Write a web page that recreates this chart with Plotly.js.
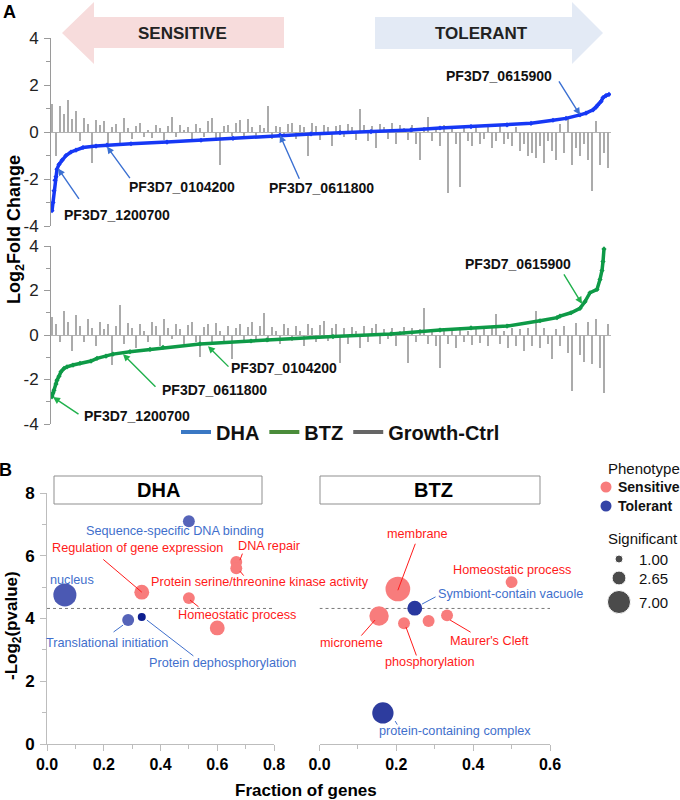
<!DOCTYPE html>
<html><head><meta charset="utf-8">
<script src="https://cdn.plot.ly/plotly-3.0.1.min.js"></script>
<style>html,body{margin:0;padding:0;background:#fff}#chart{width:680px;height:800px}</style>
</head><body><div id="chart"></div>
<script>
// ---------------- DATA ----------------
// Panel A: gene rank (sorted) vs log2 fold change
const dhaRank = [1,2,3,4,5,6,8,11,15,20,25,32,45,56,80,116,150,182,229,260,289,320,360,389,420,456,480,502,515,529,535,542,545,547,550,552,555,558];
const dhaLog2FC = [-3.35,-3.0,-2.5,-2.05,-1.9,-1.58,-1.38,-1.2,-1.0,-0.85,-0.77,-0.66,-0.6,-0.56,-0.5,-0.43,-0.35,-0.27,-0.13,-0.08,-0.03,0.02,0.09,0.17,0.23,0.3,0.37,0.5,0.58,0.73,0.8,0.94,1.05,1.16,1.3,1.46,1.55,1.6];
const btzRank = [1,2,3,5,6,8,10,13,16,22,29,40,46,55,62,79,99,112,149,200,216,282,340,389,420,456,489,506,509,520,529,534,539,546,549,551,552,553];
const btzLog2FC = [-2.78,-2.6,-2.48,-2.2,-2.03,-1.85,-1.65,-1.5,-1.43,-1.35,-1.27,-1.17,-1.05,-0.95,-0.86,-0.75,-0.65,-0.55,-0.4,-0.27,-0.22,-0.07,0.05,0.22,0.32,0.4,0.64,0.78,0.85,1.0,1.2,1.5,1.9,2.05,2.5,2.9,3.3,3.87];
const ctrlTopLog2FC = [1.2,-1.0,1.1,0.75,1.35,0.55,0.9,-0.4,0.6,0.35,-1.3,0.5,0.3,0.45,-0.6,0.2,0.35,-0.5,0.6,0.15,
-0.3,0.25,0.4,-0.2,0.1,-0.25,0.3,0.15,-0.35,0.25,0.65,-0.2,0.3,0.1,0.2,-0.4,0.35,0.15,-0.2,0.45,
0.6,-0.3,-1.4,0.25,0.3,-0.15,0.4,0.5,-0.3,0.55,0.2,-0.25,0.3,0.15,1.1,-0.3,0.25,0.2,-0.2,0.35,
0.4,-0.3,0.3,0.2,-1.0,0.4,0.25,-0.35,0.3,0.2,-0.6,0.25,0.3,-0.2,0.35,0.2,-0.35,1.0,0.3,-0.4,
0.25,-0.7,0.35,0.2,-0.3,0.4,-0.5,0.3,0.15,-0.35,0.3,-0.5,-1.2,0.2,0.65,-0.4,0.2,-0.6,0.3,-2.6,
0.2,-0.5,-2.35,0.25,-0.4,-0.6,0.3,-0.5,-0.3,0.2,-0.7,-0.4,0.3,-0.5,-0.3,-0.6,0.2,-0.8,-0.5,-1.0,
-0.9,-1.1,-0.6,-1.3,-0.4,-0.8,-1.2,0.35,-0.9,0.6,-1.4,-0.7,-1.0,-0.5,-1.2,-2.5,0.45,-1.4,-0.9,-1.55];
const ctrlBottomLog2FC = [0.8,0.5,-0.3,1.1,0.6,-0.7,0.9,0.4,-0.3,0.7,0.3,-0.5,0.6,0.25,0.5,-1.35,0.4,1.35,-0.4,0.55,
0.3,-0.6,0.5,0.2,-0.3,0.6,0.4,-0.5,0.7,0.3,-0.2,0.5,0.25,-0.4,0.45,0.6,-0.3,-1.0,0.35,0.5,
-0.3,0.55,0.2,-0.35,0.4,-1.1,0.3,0.5,-0.25,0.35,0.6,-0.3,0.4,1.0,-0.3,0.35,0.2,-0.4,0.5,0.3,
-0.25,0.4,0.2,-0.5,0.5,0.3,-0.3,0.45,0.65,-0.25,0.3,0.5,-1.25,0.3,-0.4,0.35,0.2,-0.6,0.4,-0.3,
0.3,0.5,-0.4,0.25,-0.2,0.3,-0.5,0.2,0.35,-1.25,0.3,-0.3,0.25,1.2,-0.4,0.2,-0.5,-1.5,0.3,-0.4,
0.2,-0.6,0.35,-0.3,0.2,-0.45,0.3,-0.35,0.25,-0.5,0.3,0.95,-0.4,0.2,-0.6,0.3,-0.5,0.25,-0.7,0.3,
-0.5,1.1,-0.6,0.3,-0.4,-1.1,0.25,-0.5,0.4,-0.8,-2.5,0.55,-0.9,-1.2,0.6,-1.3,0.7,-1.5,-2.6,0.5];
const ctrlRank = ctrlTopLog2FC.map((_, i) => 1 + 4 * i);
const log2TickVals = [-4,-2,0,2,4];
const log2TickText = ['-4','-2','0','2','4'];

// Panel B: GO enrichment
const dhaTerms = ['nucleus','Sequence-specific DNA binding','Regulation of gene expression','DNA repair','Protein serine/threonine kinase activity','Homeostatic process','','Translational initiation','Protein dephosphorylation'];
const dhaFraction = [0.063,0.50,0.334,0.667,0.667,0.50,0.60,0.286,0.334];
const dhaNegLog2P = [4.75,7.1,4.84,5.8,5.6,4.65,3.7,3.95,4.05];
const dhaSignificant = [7,2,3,2,2,2,3,2,1];
const dhaPhenotype = ['Tolerant','Tolerant','Sensitive','Sensitive','Sensitive','Sensitive','Sensitive','Tolerant','Tolerant'];

const btzTerms = ['membrane','Symbiont-contain vacuole','microneme','phosphorylation','',"Maurer's Cleft",'Homeostatic process','protein-containing complex'];
const btzFraction = [0.204,0.248,0.155,0.22,0.284,0.332,0.50,0.165];
const btzNegLog2P = [4.94,4.33,4.08,3.85,3.92,4.1,5.16,0.99];
const btzSignificant = [8,3,5,2,2,2,2,6];
const btzPhenotype = ['Sensitive','Tolerant','Sensitive','Sensitive','Sensitive','Sensitive','Sensitive','Tolerant'];

const sigThreshold = 4.32;           // -log2(0.05)
const sigLegendValues = [1.00, 2.65, 7.00];
const phenotypes = ['Sensitive', 'Tolerant'];

// ---------------- STYLE / LAYOUT ----------------
const W = 680, H = 800;
const px = x => x / W, py = y => 1 - y / H;
const FONT = 'Liberation Sans, Arial, Helvetica, sans-serif';
const sizeOf = s => Math.sqrt(78 * s - 14);
const phenoColor = {Sensitive: '#f87c7c', Tolerant: '#3444a6'};
const tolerantTone = {'nucleus':'#4b59b3','Sequence-specific DNA binding':'#5664b9','Translational initiation':'#5563b8',
  'Protein dephosphorylation':'#0d1e8e','Symbiont-contain vacuole':'#28389f','protein-containing complex':'#2d3c9e'};
const bubbleColors = (terms, pheno) => pheno.map((p, i) => p === 'Tolerant' ? (tolerantTone[terms[i]] || phenoColor.Tolerant) : phenoColor.Sensitive);
const RED = '#ff1a1a', BLUE = '#3f6fcc';

const traces = [
  {type:'bar', x: ctrlRank, y: ctrlTopLog2FC, width: 1.6, marker:{color:'#ababab', line:{width:0}}, xaxis:'x', yaxis:'y', showlegend:false, hoverinfo:'skip'},
  {type:'scatter', mode:'lines+markers', x: dhaRank, y: dhaLog2FC, line:{color:'#1638f5', width:3.5}, marker:{color:'#1638f5', size:4, symbol:'diamond'}, xaxis:'x', yaxis:'y', showlegend:false},
  {type:'bar', x: ctrlRank, y: ctrlBottomLog2FC, width: 1.6, marker:{color:'#ababab', line:{width:0}}, xaxis:'x2', yaxis:'y2', showlegend:false, hoverinfo:'skip'},
  {type:'scatter', mode:'lines+markers', x: btzRank, y: btzLog2FC, line:{color:'#0e9a47', width:3.5}, marker:{color:'#0e9a47', size:4, symbol:'diamond'}, xaxis:'x2', yaxis:'y2', showlegend:false},
  // legend entries
  {type:'scatter', mode:'lines', x:[null], y:[null], name:'DHA', line:{color:'#3a78c4', width:4}, xaxis:'x', yaxis:'y'},
  {type:'scatter', mode:'lines', x:[null], y:[null], name:'BTZ', line:{color:'#4a8c3a', width:4}, xaxis:'x', yaxis:'y'},
  {type:'scatter', mode:'lines', x:[null], y:[null], name:'Growth-Ctrl', line:{color:'#666666', width:4}, xaxis:'x', yaxis:'y'},
  // Panel B bubbles
  {type:'scatter', mode:'markers', x: dhaFraction, y: dhaNegLog2P, text: dhaTerms, xaxis:'x3', yaxis:'y3', showlegend:false,
   marker:{size: dhaSignificant.map(sizeOf), color: bubbleColors(dhaTerms, dhaPhenotype), opacity:1, line:{width:0}}},
  {type:'scatter', mode:'markers', x: btzFraction, y: btzNegLog2P, text: btzTerms, xaxis:'x4', yaxis:'y4', showlegend:false,
   marker:{size: btzSignificant.map(sizeOf), color: bubbleColors(btzTerms, btzPhenotype), opacity:1, line:{width:0}}},
  // Phenotype legend keys and Significant legend keys (overlay pixel axis)
  {type:'scatter', mode:'markers', x:[606,606], y:[487,506], xaxis:'x5', yaxis:'y5', showlegend:false, hoverinfo:'skip',
   marker:{size:11, color: phenotypes.map(p => phenoColor[p])}},
  {type:'scatter', mode:'markers', x:[619,619,619], y:[559,578,602], xaxis:'x5', yaxis:'y5', showlegend:false, hoverinfo:'skip',
   marker:{size: sigLegendValues.map(sizeOf), color:'#000'}}
];

const axA = (dom) => ({domain: dom, range:[-4,4], tickmode:'array', tickvals: log2TickVals, ticktext: log2TickText,
  showline:true, linecolor:'#9a9a9a', linewidth:1,
  ticks:'outside', ticklen:6, tickcolor:'#9a9a9a', showgrid:false, zeroline:true, zerolinecolor:'#b3b3b3', zerolinewidth:1,
  tickfont:{family:FONT, size:17, color:'#222'}, ticklabelstandoff:2,
  minor:{tickvals:[-3,-1,1,3], ticks:'outside', ticklen:4, tickcolor:'#9a9a9a', showgrid:false}, fixedrange:true});
const axBx = (dom, maxv, anchor) => ({domain: dom, range:[0, maxv], anchor, tick0:0, dtick:0.2, tickformat:'.1f',
  showline:true, linecolor:'#bdbdbd', ticks:'outside', ticklen:6, tickcolor:'#bdbdbd', showgrid:false, zeroline:false,
  tickfont:{family:FONT, size:16, color:'#000', weight:'bold'},
  minor:{dtick:0.1, ticks:'outside', ticklen:4, tickcolor:'#bdbdbd', showgrid:false}, fixedrange:true});

const ann = [];
const txt = (t, x, y, size, color, extra) => ann.push(Object.assign({text:t, x:px(x), y:py(y), xref:'paper', yref:'paper',
  showarrow:false, xanchor:'center', yanchor:'middle', font:{family:FONT, size, color}}, extra || {}));
const arrow = (xr, yr, x, y, ax, ay, color, head) => ann.push({text:'', xref:xr, yref:yr, x, y, ax, ay, showarrow:true,
  arrowhead: head ? 2 : 0, arrowsize: 1, arrowwidth: head ? 1.4 : 1, arrowcolor: color, standoff:0, startstandoff:0});

// panel letters & big arrows text
txt('A', 9, 12, 18, '#000', {font:{family:FONT, size:18, color:'#000', weight:'bold'}});
txt('B', 5, 470, 18, '#000', {font:{family:FONT, size:18, color:'#000', weight:'bold'}});
txt('SENSITIVE', 182, 33, 17, '#222', {font:{family:FONT, size:17, color:'#222', weight:'bold'}});
txt('TOLERANT', 481, 33, 17, '#222', {font:{family:FONT, size:17, color:'#222', weight:'bold'}});
txt('Log<sub>2</sub>Fold Change', 16, 230, 18, '#000', {textangle:-90, font:{family:FONT, size:18, color:'#000', weight:'bold'}});

// Panel A gene labels
const bold14 = {family:FONT, size:14, color:'#111', weight:'bold'};
[['PF3D7_0615900',499,76],['PF3D7_0104200',182,187],['PF3D7_0611800',321,188],['PF3D7_1200700',117,215],
 ['PF3D7_0615900',518,264],['PF3D7_0104200',284,368],['PF3D7_0611800',214,390],['PF3D7_1200700',137,416]]
 .forEach(([t,x,y]) => txt(t, x, y, 14, '#111', {font:bold14}));
const BLUEA = '#3b70d2', GREENA = '#20b04c';
arrow('x','y', 529, 0.73, -22, -35, BLUEA, true);
arrow('x','y', 56, -0.62, 24, 33, BLUEA, true);
arrow('x','y', 229, -0.14, 20, 45, BLUEA, true);
arrow('x','y', 7, -1.55, 22, 32, BLUEA, true);
arrow('x2','y2', 531, 1.4, -19, -31, GREENA, true);
arrow('x2','y2', 157, -0.5, 22, 22, GREENA, true);
arrow('x2','y2', 72, -0.86, 34, 34, GREENA, true);
arrow('x2','y2', 2, -2.79, 27, 18, GREENA, true);

// Panel B headers and axis titles
txt('DHA', 158, 490, 20, '#000', {font:{family:FONT, size:20, color:'#000', weight:'bold'}});
txt('BTZ', 433, 490, 20, '#000', {font:{family:FONT, size:20, color:'#000', weight:'bold'}});
txt('-Log<sub>2</sub>(pvalue)', 13, 626, 17, '#000', {textangle:-90, font:{family:FONT, size:17, color:'#000', weight:'bold'}});
txt('Fraction of genes', 306, 790, 17, '#000', {font:{family:FONT, size:17, color:'#000', weight:'bold'}});

// Panel B term labels
const lab = (t, x, y, c) => txt(t, x, y, 12.7, c);
lab('Sequence-specific DNA binding', 175, 531, BLUE);
lab('Regulation of gene expression', 137, 548, RED);
lab('DNA repair', 269, 546, RED);
lab('Protein serine/threonine kinase activity', 260, 582, RED);
lab('nucleus', 72, 580, BLUE);
lab('Homeostatic process', 237, 615, RED);
lab('Translational initiation', 107, 643, BLUE);
lab('Protein dephosphorylation', 222, 663, BLUE);
lab('membrane', 417, 534, RED);
lab('Homeostatic process', 512, 570, RED);
lab('Symbiont-contain vacuole', 510, 594, BLUE);
lab('microneme', 351, 643, RED);
lab('phosphorylation', 430, 662, RED);
lab("Maurer's Cleft", 489, 641, RED);
lab('protein-containing complex', 455, 731, BLUE);
arrow('x3','y3', 0.334, 4.84, -40, -34, RED, false);
arrow('x3','y3', 0.68, 5.86, 3, -8, RED, false);
arrow('x3','y3', 0.68, 5.51, 5, 6, RED, false);
arrow('x3','y3', 0.504, 4.59, 10, 8, RED, false);
arrow('x3','y3', 0.268, 3.79, -11, 8, BLUE, false);
arrow('x3','y3', 0.352, 3.95, 48, 37, BLUE, false);
arrow('x4','y4', 0.204, 4.9, 18, -48, RED, false);
arrow('x4','y4', 0.267, 4.46, 15, -8, BLUE, false);
arrow('x4','y4', 0.1445, 3.95, -15, 17, RED, false);
arrow('x4','y4', 0.225, 3.73, 11, 30, RED, false);
arrow('x4','y4', 0.34, 3.95, 22, 13, RED, false);
arrow('x4','y4', 0.197, 0.73, 3, 5, BLUE, false);

// Phenotype / Significant legends
txt('Phenotype', 606, 468, 15, '#111', {xanchor:'left'});
txt('Sensitive', 616, 487, 14, '#111', {xanchor:'left', font:{family:FONT, size:14, color:'#111', weight:'bold'}});
txt('Tolerant', 616, 506, 14, '#111', {xanchor:'left', font:{family:FONT, size:14, color:'#111', weight:'bold'}});
txt('Significant', 606, 538, 15, '#111', {xanchor:'left'});
sigLegendValues.forEach((v, i) => txt(v.toFixed(2), 637, [559,578,602][i], 15, '#111', {xanchor:'left'}));

const shapes = [
  {type:'path', xref:'paper', yref:'paper', layer:'below', fillcolor:'#f7dcdc', line:{width:0},
   path:`M ${px(62)},${py(33)} L ${px(94)},${py(2)} L ${px(94)},${py(17)} L ${px(284)},${py(17)} L ${px(284)},${py(48)} L ${px(94)},${py(48)} L ${px(94)},${py(64)} Z`},
  {type:'path', xref:'paper', yref:'paper', layer:'below', fillcolor:'#e3eaf5', line:{width:0},
   path:`M ${px(375)},${py(17)} L ${px(572)},${py(17)} L ${px(572)},${py(2)} L ${px(603)},${py(33)} L ${px(572)},${py(64)} L ${px(572)},${py(49)} L ${px(375)},${py(49)} Z`},
  {type:'rect', xref:'paper', yref:'paper', x0:px(54), x1:px(262), y0:py(476), y1:py(504), line:{color:'#8f8f8f', width:1}, fillcolor:'#fff'},
  {type:'rect', xref:'paper', yref:'paper', x0:px(320), x1:px(540), y0:py(476), y1:py(504), line:{color:'#8f8f8f', width:1}, fillcolor:'#fff'},
  {type:'line', xref:'x3', yref:'y3', x0:0, x1:0.8, y0:sigThreshold, y1:sigThreshold, line:{color:'#7a7a7a', width:1, dash:'dot'}, layer:'below'},
  {type:'line', xref:'x4', yref:'y4', x0:0, x1:0.6, y0:sigThreshold, y1:sigThreshold, line:{color:'#7a7a7a', width:1, dash:'dot'}, layer:'below'}
];

const layout = {
  width: W, height: H, margin:{l:0, r:0, t:0, b:0}, paper_bgcolor:'#fff', plot_bgcolor:'rgba(0,0,0,0)',
  font:{family:FONT, color:'#111'}, bargap:0, hovermode:false,
  xaxis:{domain:[px(51), px(611)], range:[0,560], visible:false, anchor:'y', fixedrange:true},
  yaxis: Object.assign(axA([py(226), py(38)]), {anchor:'x'}),
  xaxis2:{domain:[px(51), px(611)], range:[0,560], visible:false, anchor:'y2', fixedrange:true},
  yaxis2: Object.assign(axA([py(424), py(246)]), {anchor:'x2'}),
  xaxis3: axBx([px(47), px(274)], 0.8, 'y3'),
  yaxis3:{domain:[py(744), py(493)], range:[0,8], anchor:'x3', tick0:0, dtick:2, showline:true, linecolor:'#bdbdbd',
    ticks:'outside', ticklen:6, tickcolor:'#bdbdbd', showgrid:false, zeroline:false, ticklabelstandoff:2,
    tickfont:{family:FONT, size:17, color:'#000', weight:'bold'},
    minor:{dtick:1, ticks:'outside', ticklen:4, tickcolor:'#bdbdbd', showgrid:false}, fixedrange:true},
  xaxis4: axBx([px(319.5), px(550)], 0.6, 'y4'),
  yaxis4:{domain:[py(744), py(493)], range:[0,8], anchor:'x4', visible:false, fixedrange:true},
  xaxis5:{domain:[0,1], range:[0,W], visible:false, anchor:'y5', fixedrange:true},
  yaxis5:{domain:[0,1], range:[H,0], visible:false, anchor:'x5', fixedrange:true},
  showlegend:true,
  legend:{orientation:'h', x:px(176), y:py(432), xanchor:'left', yanchor:'middle', bgcolor:'rgba(0,0,0,0)',
    font:{family:FONT, size:20, color:'#111', weight:'bold'}, itemwidth:30, traceorder:'normal'},
  annotations: ann, shapes: shapes
};

Plotly.newPlot('chart', traces, layout, {displayModeBar:false, staticPlot:true});
</script></body></html>
